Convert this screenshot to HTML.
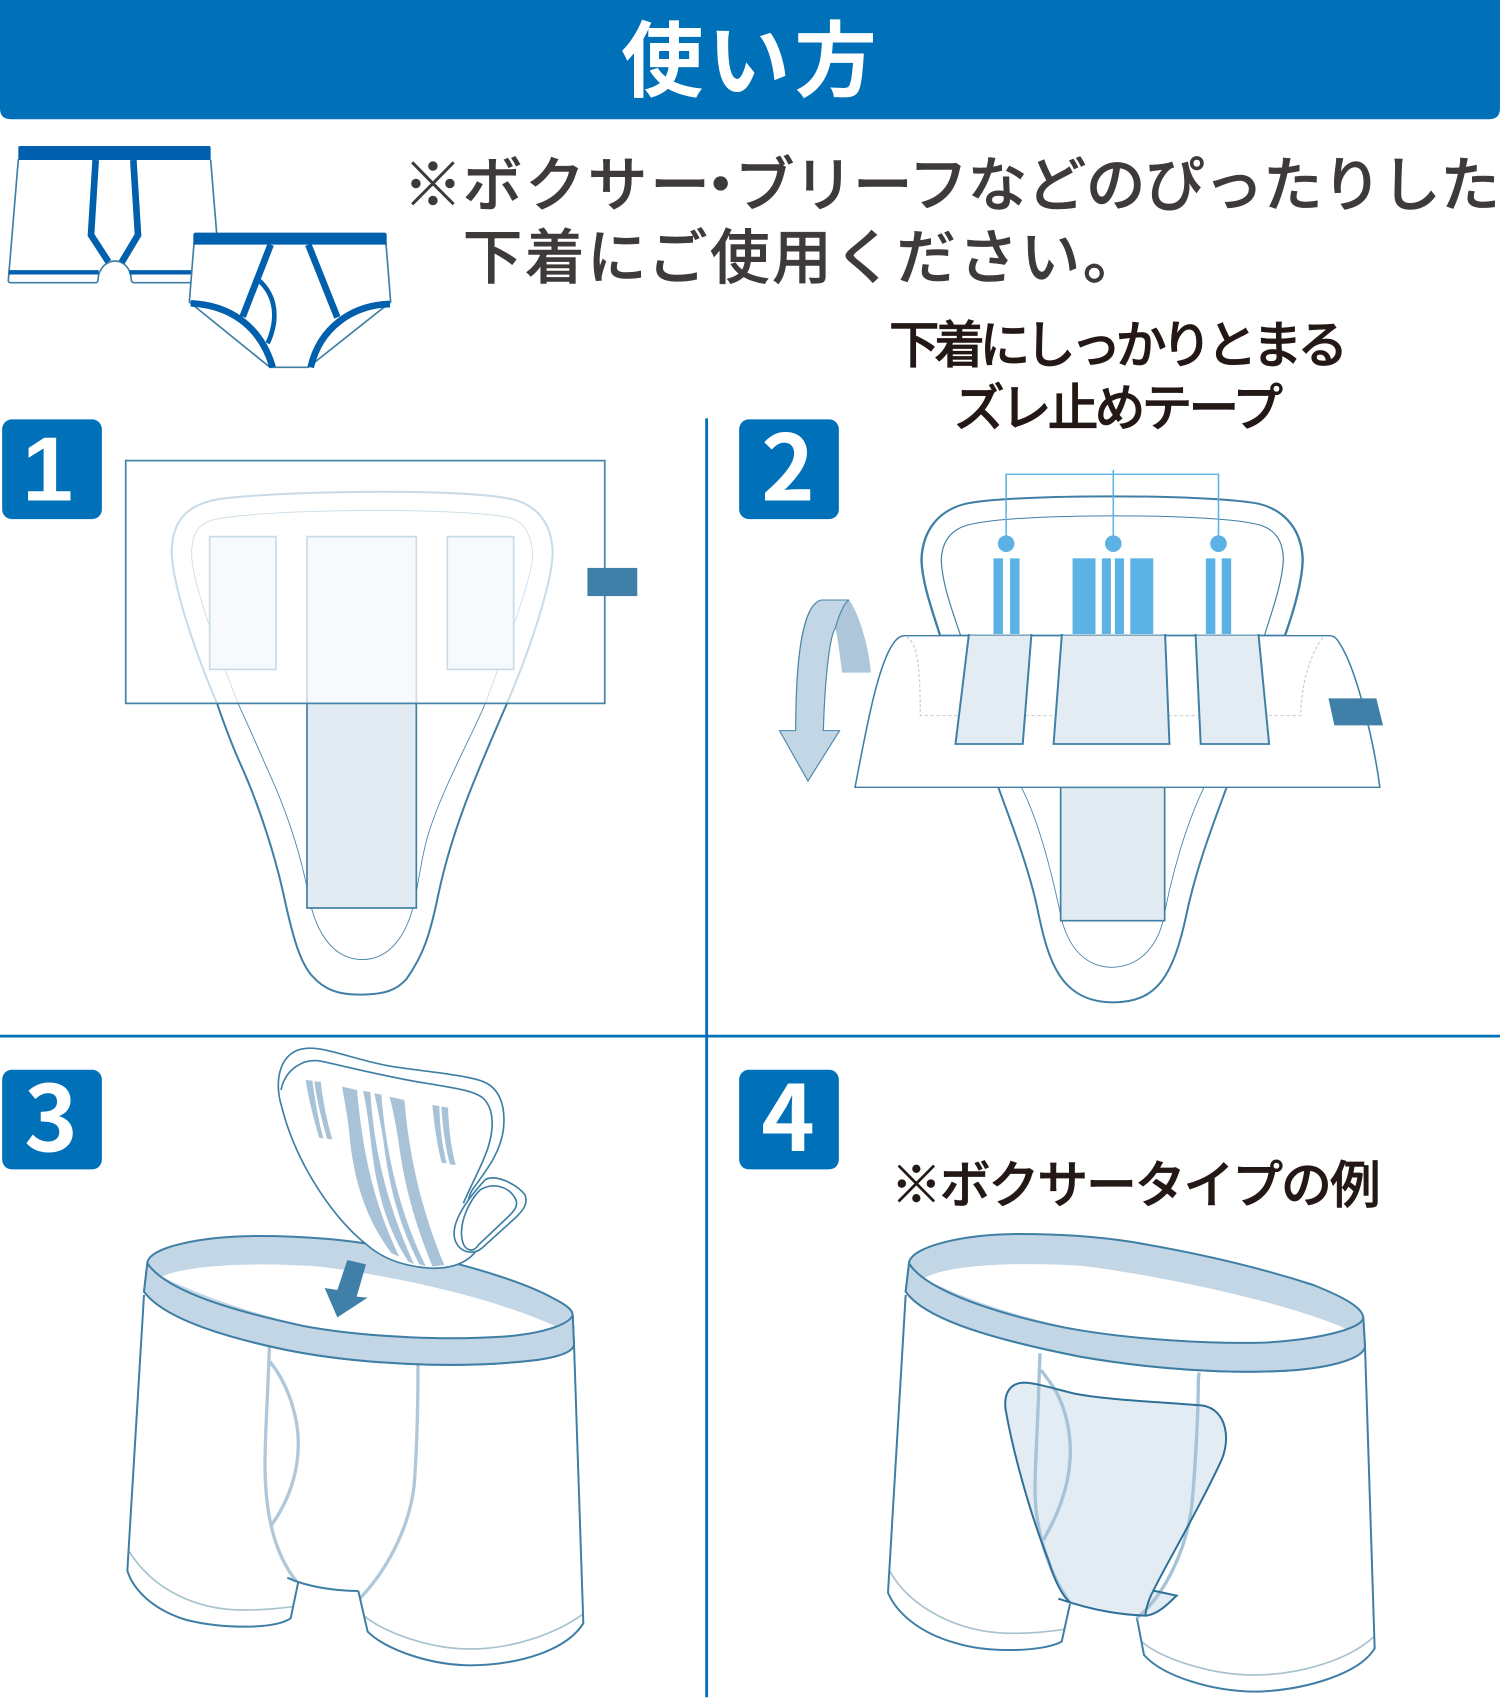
<!DOCTYPE html>
<html lang="ja"><head><meta charset="utf-8"><title>使い方</title>
<style>html,body{margin:0;padding:0;background:#fff}svg{display:block}
text{font-family:"Liberation Sans","Noto Sans CJK JP",sans-serif}</style></head>
<body>
<svg width="1500" height="1700" viewBox="0 0 1500 1700" xmlns="http://www.w3.org/2000/svg">
<g transform="scale(1.0838)">
<path d="M0 0H1384V100Q1384 110 1374 110H10Q0 110 0 100Z" fill="#0071b9"/>
<text x="573" y="83" font-size="76" font-weight="700" fill="#fff" textLength="236" lengthAdjust="spacing">使い方</text>
<g font-size="55" font-weight="500" fill="#3e3a39" stroke="#3e3a39" stroke-width=".5">
<text x="372" y="190">※</text>
<text x="427" y="190" textLength="228" lengthAdjust="spacing">ボクサー</text>
<text x="665" y="190" text-anchor="middle">・</text>
<text x="678" y="190" textLength="706" lengthAdjust="spacing">ブリーフなどのぴったりした</text>
<text x="427" y="257" textLength="627" lengthAdjust="spacing">下着にご使用ください。</text>
</g>
<g font-size="47" font-weight="500" fill="#231815" stroke="#231815" stroke-width=".6">
<text x="820" y="335" textLength="424" lengthAdjust="spacing">下着にしっかりとまる</text>
<text x="880" y="393" textLength="304" lengthAdjust="spacing">ズレ止めテープ</text>
<text x="822" y="1110" textLength="452" lengthAdjust="spacing">※ボクサータイプの例</text>
</g>

<path d="M652 386V1566M0 956H1384" stroke="#0071b9" stroke-width="2.6" fill="none"/>

<g fill="#0071b9">
<rect x="2" y="387" width="92" height="92" rx="9"/><rect x="682" y="387" width="92" height="92" rx="9"/>
<rect x="2" y="987" width="92" height="92" rx="9"/><rect x="682" y="987" width="92" height="92" rx="9"/>
</g>
<g fill="#fff" font-size="84" font-weight="700" text-anchor="middle">
<text x="44" y="462" style="font-family:'Liberation Sans',sans-serif">1</text>
<text x="727" y="462" style="font-family:'Noto Sans CJK JP',sans-serif">2</text>
<text x="47" y="1062" style="font-family:'Noto Sans CJK JP',sans-serif">3</text>
<text x="727" y="1062" style="font-family:'Noto Sans CJK JP',sans-serif">4</text>
</g>
</g>

<!-- Panel 1 -->
<g transform="translate(160,480) scale(.33333,.337)" fill="none" stroke="#3f7fa5">
<path d="M35 210C38 120 80 75 170 58C300 35 900 20 1060 58C1140 78 1178 140 1178 220C1175 300 1120 480 1040 665C960 850 880 1020 835 1230C810 1350 790 1410 740 1480C710 1515 670 1527 600 1527C530 1527 490 1510 455 1470C420 1430 400 1360 375 1250C350 1130 300 970 240 840C200 750 172 665 172 665C100 500 35 300 35 210Z" fill="#fff" stroke-width="6"/>
<path d="M95 220C95 160 115 130 160 118C300 85 900 80 1050 112C1095 125 1118 170 1118 230C1110 300 1060 440 975 665C930 770 850 910 805 1050C790 1100 780 1160 768 1230C745 1350 690 1423 607 1423C530 1423 470 1360 445 1230C430 1150 400 1040 350 920C310 830 270 740 235 665C170 500 95 300 95 220Z" stroke-width="2.5"/>
<rect x="149" y="168" width="199" height="394" fill="#e2ebf2" stroke-width="5"/>
<rect x="441" y="168" width="328" height="1102" fill="#e2ebf2" stroke-width="5"/>
<rect x="862" y="168" width="199" height="394" fill="#e2ebf2" stroke-width="5"/>
</g>
<g transform="scale(1.0838)">
<rect x="116" y="425" width="442" height="224" fill="#fff" fill-opacity=".72" stroke="none"/>
<rect x="116" y="425" width="442" height="224" fill="none" stroke="#4584a8" stroke-width="1.6"/>
<rect x="542" y="524" width="46" height="26" fill="#4080a8"/>
</g>

<!-- Panel 2 lower -->
<g transform="translate(980,780) scale(.33333)" fill="none" stroke="#3f7fa5">
<path d="M55 22C90 120 150 270 175 400C205 540 240 667 400 667C530 667 580 590 620 400C650 260 700 130 740 22" fill="#fff" stroke-width="6"/>
<path d="M124 22C170 110 210 250 245 420C270 510 320 560 395 562C480 560 530 500 550 420C575 280 620 130 672 22" stroke-width="2.5"/>
<path d="M242 22H554V422H242Z" fill="#e2ebf2" stroke-width="5"/>
</g>

<!-- Panel 3 boxer -->
<g transform="translate(120,1220) scale(.33333)" fill="none" stroke="#3f7fa5" stroke-width="6">
<path d="M72 225L22 1052C40 1110 100 1170 200 1200C300 1225 460 1230 512 1195L535 1085L715 1113L743 1235C800 1290 930 1335 1050 1336C1200 1335 1340 1290 1390 1210L1362 372Z" fill="#fff" stroke="none"/>
<path d="M448 380C445 500 435 640 435 730C435 900 470 1010 530 1085M450 425C510 500 535 600 535 670C535 770 500 850 455 915M894 435C894 550 890 680 885 760C880 900 810 1040 720 1135" stroke="#b0c8d9" stroke-width="10"/>
<path d="M28 995C100 1110 230 1170 370 1170C430 1170 480 1165 517 1160M735 1190C800 1240 930 1287 1050 1287C1180 1287 1310 1240 1388 1183" stroke="#a8c2ce" stroke-width="5"/>
<path d="M72 225L22 1052C40 1110 100 1170 200 1200C300 1225 460 1230 512 1195L535 1085M715 1113L743 1235C800 1290 930 1335 1050 1336C1200 1335 1340 1290 1390 1210L1362 372M502 1073C560 1100 640 1112 715 1113"/>
<path d="M82 130L72 215C120 280 260 340 500 390C700 430 1000 450 1250 420C1320 410 1362 395 1362 372L1358 285C1358 270 1340 255 1300 235C1200 180 1000 120 760 75C700 62 560 48 420 48C250 48 85 80 82 130Z" fill="#c3d6e5"/>
<path d="M125 170C200 135 400 125 600 140C800 165 1100 225 1310 320C1200 400 600 400 125 170Z" fill="#fff" stroke="none"/>
<path d="M82 130C130 200 280 260 550 318C750 355 1000 360 1150 350C1280 340 1350 310 1358 285L1362 372C1362 395 1320 410 1250 420C1000 450 700 430 500 390C260 340 120 280 72 215Z" fill="#c3d6e5"/>
</g>

<!-- Panel 4 boxer -->
<g transform="translate(880,1220) scale(.33333)" fill="none" stroke="#3f7fa5" stroke-width="6">
<path d="M77 225L24 1118C50 1180 120 1240 230 1270C330 1300 490 1295 545 1265L570 1152L770 1190L792 1305C850 1370 1000 1415 1130 1415C1280 1410 1440 1360 1484 1285L1455 380Z" fill="#fff" stroke="none"/>
<path d="M30 1055C90 1160 230 1238 390 1240C450 1240 510 1235 552 1228M785 1265C850 1320 1000 1365 1120 1365C1250 1365 1400 1325 1482 1250" stroke="#a8c2ce" stroke-width="5"/>
<path d="M77 225L24 1118C50 1180 120 1240 230 1270C330 1300 490 1295 545 1265L570 1152M770 1190L792 1305C850 1370 1000 1415 1130 1415C1280 1410 1440 1360 1484 1285L1455 380"/>
<path d="M87 130L77 215C130 290 300 350 600 410C800 445 1050 465 1250 450C1360 440 1450 415 1455 380L1450 295C1450 265 1400 235 1300 195C1100 130 900 90 750 65C620 45 500 42 420 42C250 42 90 80 87 130Z" fill="#c3d6e5"/>
<path d="M130 175C200 135 400 125 600 137C800 160 1200 240 1395 325C1300 410 600 410 130 175Z" fill="#fff" stroke="none"/>
<path d="M87 130C130 200 300 270 550 322C750 360 1000 372 1150 368C1300 360 1440 330 1450 295L1455 380C1450 415 1360 440 1250 450C1050 465 800 445 600 410C300 350 130 290 77 215Z" fill="#c3d6e5"/>
<path d="M480 400L477 480M483 450L505 480M957 458L955 480" stroke="#a6c3d7" stroke-width="10"/>
</g>

<!-- Icons -->
<g transform="translate(0,130) scale(.33333)" fill="none">
<path d="M55 88L25 450Q24 458 32 458H288Q293 458 294 450C295 420 315 393 345 393C375 393 393 420 394 450Q395 458 402 458H580M632 90L650 310" stroke="#3f7fa5" stroke-width="5" fill="#fff"/>
<path d="M26 427H296M388 427H575" stroke="#0060ad" stroke-width="13"/>
<path d="M287 90L273 315L325 395M400 90L414 315L365 397" stroke="#0060ad" stroke-width="20"/>
<path d="M55 52Q55 48 60 48H628Q632 48 632 55V90H55Z" fill="#0060ad"/>
<path d="M582 340L568 516L810 712H925L1172 516L1158 340Z" fill="#fff" stroke="#3f7fa5" stroke-width="5"/>
<path d="M580 344V315Q580 308 587 308H1153Q1160 308 1160 315V344Z" fill="#0060ad"/>
<path d="M572 520C680 525 780 580 818 712M1170 522C1060 525 960 590 932 712M812 344L728 560M925 344L1012 562" stroke="#0060ad" stroke-width="20"/>
<path d="M778 452C830 500 835 570 803 640" stroke="#0060ad" stroke-width="14"/>
</g>

<!-- Panel 2 upper -->
<g transform="translate(770,470) scale(.3955,.33333)" fill="none">
<path d="M430 497C410 420 385 340 383 270C385 190 420 120 500 100C620 72 1100 72 1230 100C1310 120 1345 190 1347 270C1345 340 1325 420 1302 497Z" fill="#fff" stroke="#3f7fa5" stroke-width="6"/>
<path d="M482 497C460 420 435 340 433 270C435 210 460 170 520 160C640 130 1100 130 1220 160C1275 170 1298 210 1298 270C1295 340 1270 420 1250 497" stroke="#3f7fa5" stroke-width="3"/>
<path d="M597 220V13H1134V220M868 0V220" stroke="#5fb3e6" stroke-width="4"/>
<g fill="#5db2e5">
<ellipse cx="597" cy="221" rx="21" ry="25"/><ellipse cx="868" cy="221" rx="21" ry="25"/><ellipse cx="1134" cy="221" rx="21" ry="25"/>
<rect x="565" y="265" width="24" height="227"/><rect x="607" y="265" width="24" height="227"/>
<rect x="765" y="265" width="58" height="227"/><rect x="839" y="265" width="23" height="227"/><rect x="872" y="265" width="23" height="227"/><rect x="911" y="265" width="58" height="227"/>
<rect x="1102" y="265" width="24" height="227"/><rect x="1142" y="265" width="24" height="227"/>
</g>
<path d="M215 952H1542C1525 800 1480 590 1440 520Q1430 497 1415 497H340Q325 497 312 520C270 590 240 800 215 952Z" fill="#fff" stroke="#3f7fa5" stroke-width="4"/>
<path d="M345 500C370 520 380 570 380 737H1342C1342 640 1370 540 1400 500" stroke="#c9cdd0" stroke-width="3" stroke-dasharray="9 6"/>
<path d="M503 497L661 497L639 822H469Z" fill="#e4ecf3"/>
<path d="M503 492L469 822H639L661 492" stroke="#3f7fa5" stroke-width="5"/>
<path d="M738 497L999 497L1010 822H717Z" fill="#e4ecf3"/>
<path d="M738 492L717 822H1010L999 492" stroke="#3f7fa5" stroke-width="5"/>
<path d="M1076 497L1235 497L1262 822H1089Z" fill="#e4ecf3"/>
<path d="M1076 492L1089 822H1262L1235 492" stroke="#3f7fa5" stroke-width="5"/>
<path d="M1412 685H1533L1550 766H1427Z" fill="#4080a8"/>
<path d="M200 390C225 430 250 530 255 608H182C178 560 170 500 165 470C170 430 190 395 200 390Z" fill="#adc6d9"/>
<path d="M200 390H130C90 400 65 520 65 782H24L96 933L176 782H135C138 640 150 500 165 475C175 430 190 395 200 390Z" fill="#c3d6e5" stroke="#4a87a9" stroke-width="3"/>
</g>

<!-- Panel 3 pad -->
<g transform="translate(260,1040) scale(.33333)" fill="none" stroke="#3f7fa5" stroke-width="5">
<path d="M318 612C230 545 110 380 65 200C40 120 60 30 140 25C200 20 300 65 400 80C500 95 620 105 670 125C720 145 738 200 730 270C720 340 680 390 640 445C600 500 640 600 650 630C630 660 590 685 520 685C420 680 360 650 318 612Z" fill="#fff"/>
<path d="M63 150C75 90 130 50 190 65C280 85 400 115 500 130C570 142 640 150 670 175C705 210 700 270 685 320C670 370 640 420 610 490"/>
<g fill="#a8c2d8" stroke="none">
<path d="M137 120L157 122C165 180 175 240 190 295L177 293C160 230 145 175 137 120Z"/>
<path d="M163 125H182C190 190 200 240 217 298L202 297C185 240 170 180 163 125Z"/>
<path d="M246 140L291 150C305 300 330 470 418 650L395 640C310 530 280 400 270 300C265 240 255 190 246 140Z"/>
<path d="M309 153L331 156C340 290 365 460 462 672L445 665C370 550 345 420 332 300C325 240 318 190 309 153Z"/>
<path d="M343 160L364 164C375 300 405 490 497 678L478 673C410 540 385 420 370 300C360 240 350 190 343 160Z"/>
<path d="M388 170L433 180C445 320 475 490 553 675L518 680C460 540 430 420 415 300C405 240 395 190 388 170Z"/>
<path d="M517 195L538 198C540 260 545 310 560 370L545 368C530 310 522 250 517 195Z"/>
<path d="M544 200L564 203C567 265 572 320 587 375L570 373C555 320 548 260 544 200Z"/>
</g>
<path d="M675 420C700 400 770 430 795 465C805 490 790 510 770 530L665 625C640 645 600 640 585 600C570 550 620 480 675 420Z" fill="#fff"/>
<path d="M660 450C700 425 750 440 768 480C775 500 760 515 745 530L655 615C640 640 610 635 605 590C600 540 630 480 660 450Z"/>
<path d="M262 660L318 673L290 770L323 773L232 832L194 744L232 750Z" fill="#4080a8" stroke="none"/>
</g>

<!-- Panel 4 pad -->
<g transform="translate(990,1380) scale(.33333)" fill="none">
<path d="M104 8C60 8 40 40 47 90C70 220 120 400 175 540C190 590 210 640 240 668C320 695 400 705 470 707C510 700 540 665 560 647L490 632C530 550 620 400 690 250C725 180 710 90 640 77C500 65 350 60 250 40C190 25 140 10 104 8Z" fill="#e4ecf3"/>
<path d="M147 0C145 100 135 250 135 330C135 470 190 600 240 668M175 0C230 70 245 170 240 240C235 330 200 410 160 480M625 0C625 100 615 280 605 380C590 500 530 640 440 715" stroke="#a6c3d7" stroke-width="10"/>
<path d="M205 656C320 695 400 705 470 707C510 700 540 665 560 647L490 632C530 550 620 400 690 250C725 180 710 90 640 77C500 65 350 60 250 40C190 25 140 10 104 8C60 8 40 40 47 90C70 220 120 400 175 540C190 590 210 640 240 668M490 632C475 660 470 680 466 705" stroke="#2f7099" stroke-width="6"/>
</g>
</svg>
</body></html>
